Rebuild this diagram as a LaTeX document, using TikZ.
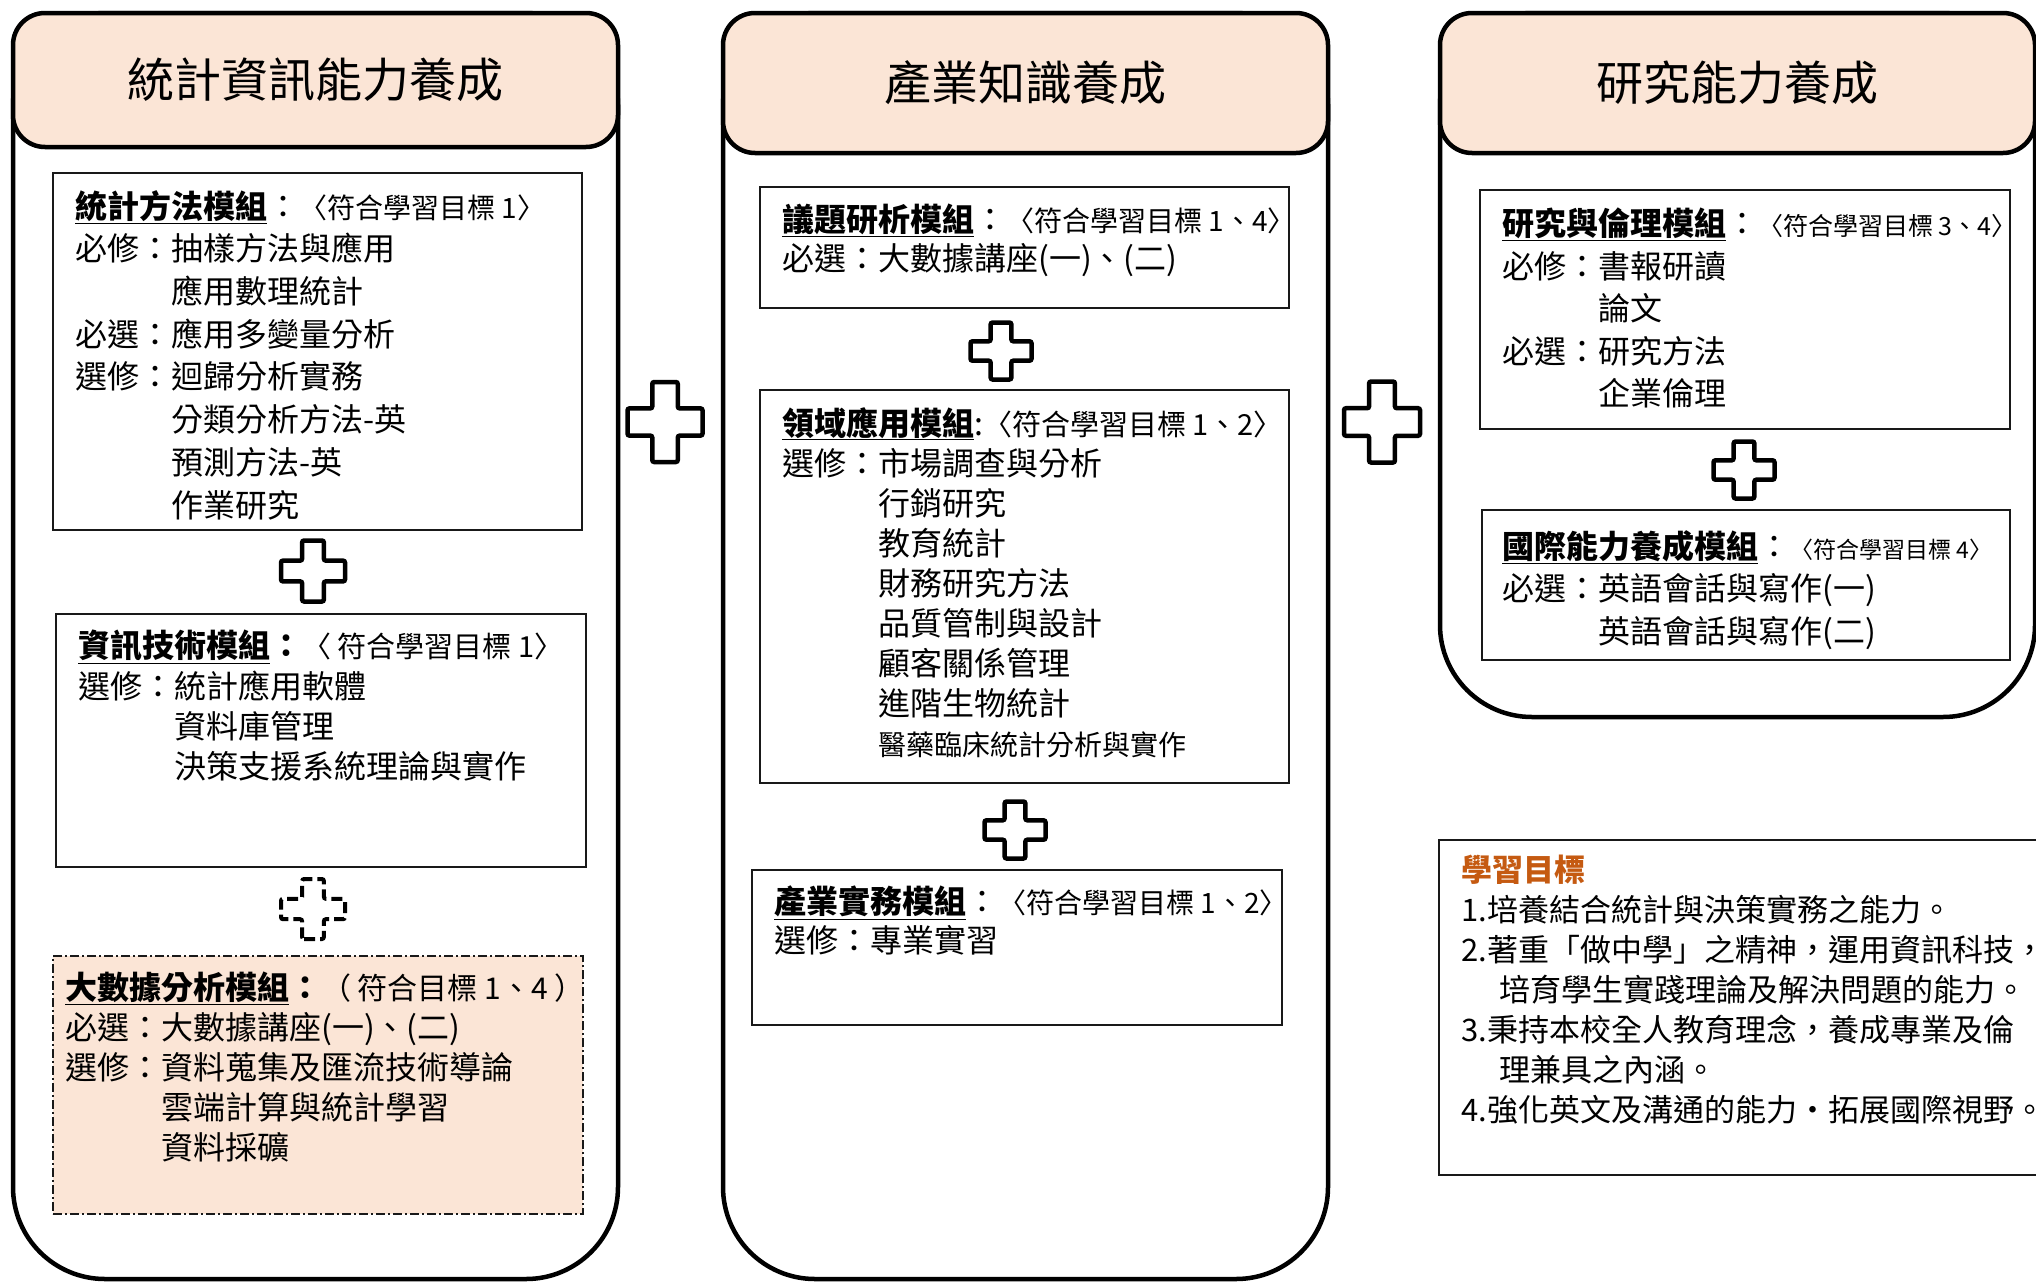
\documentclass[tikz,border=0pt]{standalone}
\usepackage{fontspec}
\setmainfont{Noto Sans CJK TC}
\usepackage{tikz}
\definecolor{headfill}{HTML}{FBE5D6}
\definecolor{goalbrown}{HTML}{C55A11}
\tikzstyle{column} = [draw=black, line width=4.5pt, fill=white, rectangle, rounded corners=92pt, inner sep=0pt]
\tikzstyle{header} = [draw=black, line width=4.5pt, fill=headfill, rectangle, rounded corners=32pt, inner sep=0pt, font=\fontsize{47}{47}\selectfont]
\tikzstyle{modbox} = [draw=black!90, line width=1.8pt, fill=white, rectangle, inner sep=0pt]
\tikzstyle{bigdatabox} = [modbox, fill=headfill, dash pattern=on 9pt off 3pt on 2pt off 3pt]
\tikzstyle{modtext} = [anchor=north west, inner sep=0pt, align=left]
\tikzstyle{plusmark} = [draw=black, fill=white, line width=4.5pt, rounded corners=2pt]
\tikzstyle{dashplus} = [plusmark, line width=4pt, dash pattern=on 11pt off 5pt]
\tikzset{crossmark/.pic={
  \path[pic actions] (-0.17,-0.5) -- (0.17,-0.5) -- (0.17,-0.17) -- (0.5,-0.17) -- (0.5,0.17)
    -- (0.17,0.17) -- (0.17,0.5) -- (-0.17,0.5) -- (-0.17,0.17) -- (-0.5,0.17)
    -- (-0.5,-0.17) -- (-0.17,-0.17) -- cycle;}}
\newcommand{\modtitle}[1]{\underline{\textbf{#1}}}
\newcommand{\goalnote}[2]{{\fontsize{#1}{#1}\selectfont #2}}
\newcommand{\coursepad}{\hspace*{3em}}

\begin{document}
\begin{tikzpicture}[x=1pt, y=-1pt, font=\fontsize{32}{40}\selectfont]
\useasboundingbox (0,0) rectangle (2036,1282);

% three columns
\node[column, minimum width=605pt, minimum height=1266pt] (statcol) at (315.5,646) {};
\node[column, minimum width=605pt, minimum height=1266pt] (induscol) at (1025.5,646) {};
\node[column, minimum width=595pt, minimum height=704pt] (rescol) at (1737.5,365) {};
\node[header, minimum width=605pt, minimum height=134pt] (stathead) at (315.5,80) {統計資訊能力養成};
\node[header, minimum width=605pt, minimum height=140pt] (indushead) at (1025.5,83) {產業知識養成};
\node[header, minimum width=595pt, minimum height=140pt] (reshead) at (1737.5,83) {研究能力養成};

% column 1
\node[modbox, minimum width=529pt, minimum height=357pt] (methbox) at (317.5,351.5) {};
\node[modtext, font=\fontsize{32}{42.7}\selectfont] (methtext) at (75,190) {%
  \modtitle{統計方法模組}：\goalnote{28}{〈符合學習目標 1〉}\\
  必修：抽樣方法與應用\\
  \coursepad 應用數理統計\\
  必選：應用多變量分析\\
  選修：迴歸分析實務\\
  \coursepad 分類分析方法-英\\
  \coursepad 預測方法-英\\
  \coursepad 作業研究};
\node[modbox, minimum width=530pt, minimum height=253pt] (infobox) at (321,740.5) {};
\node[modtext, font=\fontsize{32}{40.3}\selectfont] (infotext) at (78,630) {%
  \modtitle{資訊技術模組}\textbf{：}\goalnote{29}{〈 符合學習目標 1〉}\\
  選修：統計應用軟體\\
  \coursepad 資料庫管理\\
  \coursepad 決策支援系統理論與實作};
\node[bigdatabox, minimum width=530pt, minimum height=258pt] (bigbox) at (318,1085) {};
\node[modtext, font=\fontsize{32}{40}\selectfont] (bigtext) at (65,972) {%
  \modtitle{大數據分析模組}\textbf{：}\goalnote{30}{（ 符合目標 1、4 ）}\\
  必選：大數據講座(一)、(二)\\
  選修：資料蒐集及匯流技術導論\\
  \coursepad 雲端計算與統計學習\\
  \coursepad 資料採礦};

% column 2
\node[modbox, minimum width=529pt, minimum height=121pt] (issuebox) at (1024.5,247.5) {};
\node[modtext, font=\fontsize{32}{39}\selectfont] (issuetext) at (782,204) {%
  \modtitle{議題研析模組}：\goalnote{28}{〈符合學習目標 1、4〉}\\
  必選：大數據講座(一)、(二)};
\node[modbox, minimum width=529pt, minimum height=393pt] (fieldbox) at (1024.5,586.5) {};
\node[modtext, font=\fontsize{32}{40}\selectfont] (fieldtext) at (782,407) {%
  \modtitle{領域應用模組}:\goalnote{29}{〈符合學習目標 1、2〉}\\
  選修：市場調查與分析\\
  \coursepad 行銷研究\\
  \coursepad 教育統計\\
  \coursepad 財務研究方法\\
  \coursepad 品質管制與設計\\
  \coursepad 顧客關係管理\\
  \coursepad 進階生物統計\\
  \coursepad \goalnote{28}{醫藥臨床統計分析與實作}};
\node[modbox, minimum width=530pt, minimum height=155pt] (practbox) at (1017,947.5) {};
\node[modtext, font=\fontsize{32}{39}\selectfont] (practtext) at (774,886) {%
  \modtitle{產業實務模組}：\goalnote{28}{〈符合學習目標 1、2〉}\\
  選修：專業實習};

% column 3
\node[modbox, minimum width=530pt, minimum height=239pt] (ethicbox) at (1745,309.5) {};
\node[modtext, font=\fontsize{32}{42.5}\selectfont] (ethictext) at (1502,208) {%
  \modtitle{研究與倫理模組}：\goalnote{25}{〈符合學習目標 3、4〉}\\
  必修：書報研讀\\
  \coursepad 論文\\
  必選：研究方法\\
  \coursepad 企業倫理};
\node[modbox, minimum width=528pt, minimum height=150pt] (globalbox) at (1746,585) {};
\node[modtext, font=\fontsize{32}{42.5}\selectfont] (globaltext) at (1502,530) {%
  \modtitle{國際能力養成模組}：\goalnote{23}{〈符合學習目標 4〉}\\
  必選：英語會話與寫作(一)\\
  \coursepad 英語會話與寫作(二)};

% learning goals
\node[modbox, minimum width=611pt, minimum height=335pt] (goalbox) at (1744.5,1007.5) {};
\node[modtext, font=\fontsize{31}{40}\selectfont] (goaltext) at (1461,855) {%
  \textcolor{goalbrown}{\textbf{學習目標}}\\
  1.培養結合統計與決策實務之能力。\\
  2.著重「做中學」之精神，運用資訊科技，\\
  \hspace*{1.25em}培育學生實踐理論及解決問題的能力。\\
  3.秉持本校全人教育理念，養成專業及倫\\
  \hspace*{1.25em}理兼具之內涵。\\
  4.強化英文及溝通的能力·拓展國際視野。};

% plus signs
\pic[plusmark, x=75pt, y=80pt] (statplus) at (665pt,-422pt) {crossmark};
\pic[plusmark, x=76pt, y=81pt] (indusplus) at (1382pt,-422pt) {crossmark};
\pic[plusmark, x=64pt, y=61pt] (methplus) at (313pt,-571pt) {crossmark};
\pic[dashplus, x=64pt, y=60pt] (infoplus) at (313pt,-909pt) {crossmark};
\pic[plusmark, x=61pt, y=57pt] (issueplus) at (1001pt,-351pt) {crossmark};
\pic[plusmark, x=61pt, y=57pt] (fieldplus) at (1015pt,-830pt) {crossmark};
\pic[plusmark, x=61pt, y=57pt] (ethicplus) at (1744pt,-470pt) {crossmark};
\end{tikzpicture}
\end{document}
